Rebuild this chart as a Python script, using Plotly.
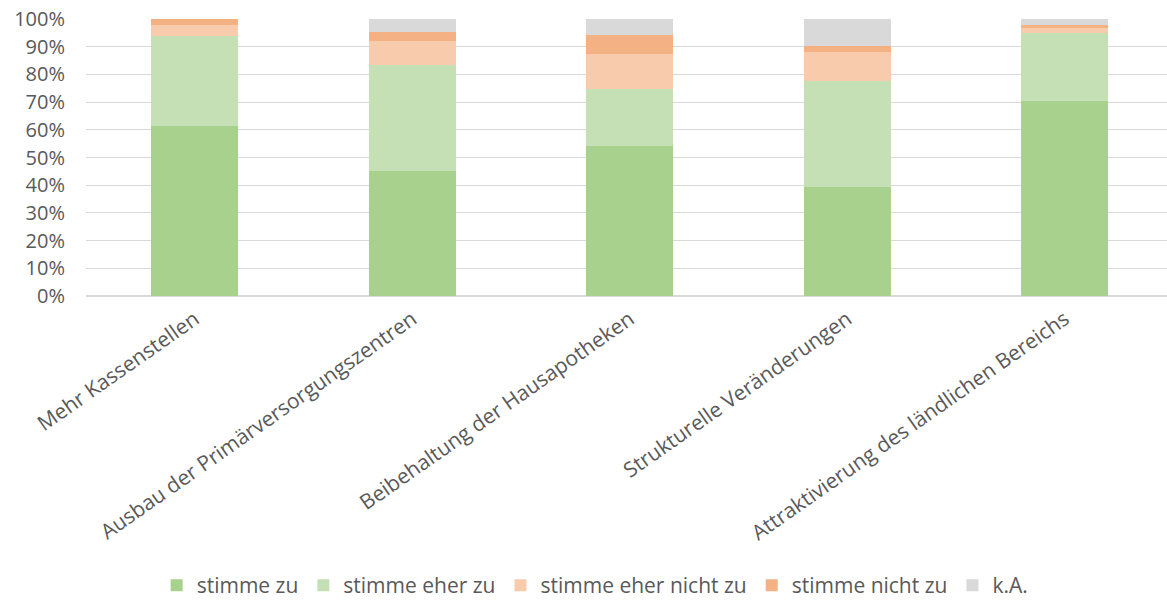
import plotly.graph_objects as go

categories = ["Mehr Kassenstellen", "Ausbau der Primärversorgungszentren",
              "Beibehaltung der Hausapotheken", "Strukturelle Veränderungen",
              "Attraktivierung des ländlichen Bereichs"]
stimme_zu = [61.2, 45.2, 54.0, 39.5, 70.5]
stimme_eher_zu = [32.8, 38.1, 20.8, 38.2, 24.5]
stimme_eher_nicht_zu = [3.8, 8.9, 12.4, 10.3, 2.0]
stimme_nicht_zu = [2.2, 3.0, 7.2, 2.2, 0.7]
k_a = [0.0, 4.8, 5.6, 9.8, 2.3]

series = [
    ("stimme zu", stimme_zu, "#A9D18E"),
    ("stimme eher zu", stimme_eher_zu, "#C5E0B4"),
    ("stimme eher nicht zu", stimme_eher_nicht_zu, "#F8CBAD"),
    ("stimme nicht zu", stimme_nicht_zu, "#F4B183"),
    ("k.A.", k_a, "#D9D9D9"),
]

fig = go.Figure()
for name, vals, color in series:
    fig.add_trace(go.Bar(x=categories, y=[v / 100 for v in vals], name=name,
                         marker=dict(color=color, line=dict(width=0)),
                         width=0.4))

fig.update_layout(
    barmode="stack",
    width=1167, height=606,
    margin=dict(l=86, r=0, t=19, b=310),
    plot_bgcolor="white", paper_bgcolor="white",
    font=dict(family="Open Sans, sans-serif", color="#595959", size=18),
    showlegend=True,
    legend=dict(orientation="h", x=0.51, xanchor="center", xref="container",
                y=-0.014, yanchor="bottom", yref="container",
                font=dict(size=21, color="#595959"), traceorder="normal"),
    bargap=0.6,
)
fig.update_xaxes(range=[-0.5, 4.47], tickangle=-35, showline=False, ticks="",
                 tickfont=dict(size=21), ticklabelstandoff=6)
fig.update_yaxes(range=[0, 1], tickformat=".0%", dtick=0.1, showgrid=True,
                 gridcolor="#D9D9D9", gridwidth=1, zeroline=True,
                 zerolinecolor="#D9D9D9", ticks="", tickfont=dict(size=20),
                 ticklabelstandoff=20)

fig.write_html("out.html")
